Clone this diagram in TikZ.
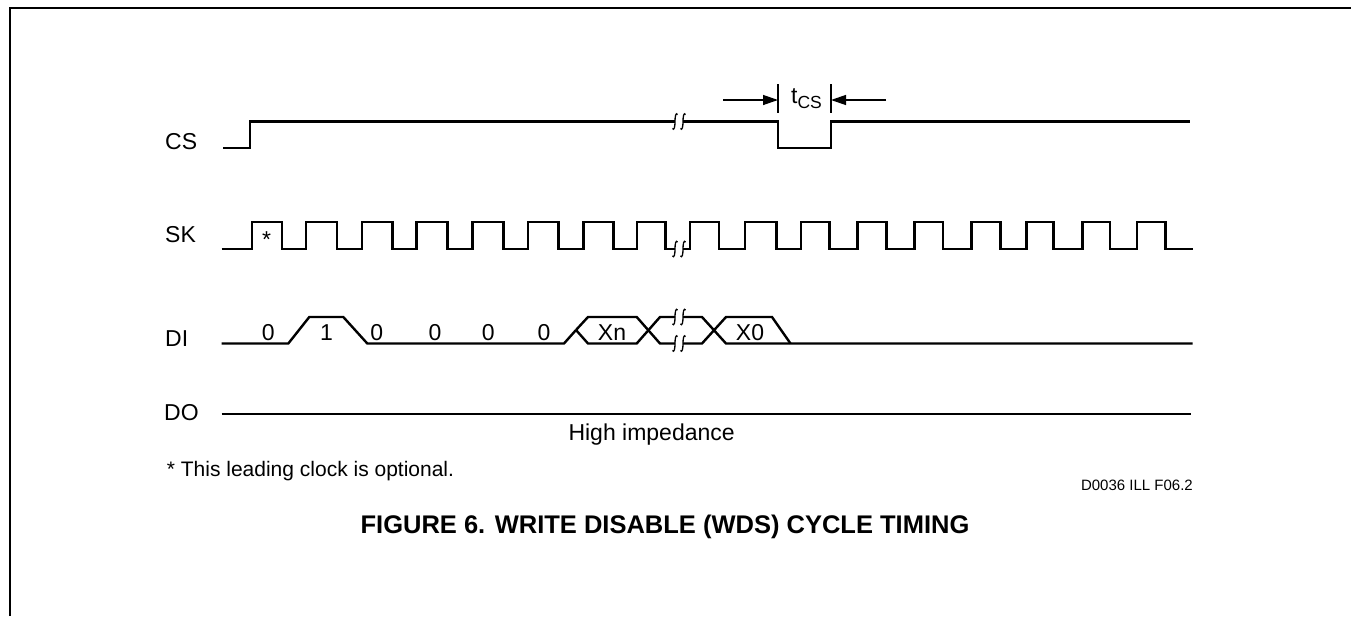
\documentclass[tikz,border=0pt]{standalone}
\usepackage{fontspec}
\setmainfont{Liberation Sans}
\usetikzlibrary{arrows.meta}
\newcommand\brkmark[2]{\draw[brk] ({#1+2.6},{#2-7}) .. controls ({#1+0.8},{#2-9.5}) and ({#1},{#2-5}) .. (#1,#2) .. controls ({#1},{#2+5}) and ({#1-0.8},{#2+9.5}) .. ({#1-2.6},{#2+7});}
\begin{document}
\begin{tikzpicture}[x=1pt,y=-1pt,
  sig/.style={line width=2.4pt,line join=miter},
  brk/.style={line width=1.3pt},
  frame/.style={line width=2pt},
  dim/.style={line width=1.3pt},
  lbl/.style={font=\fontsize{23}{23}\selectfont,inner sep=0pt},
  note/.style={font=\fontsize{21}{21}\selectfont,inner sep=0pt},
  sml/.style={font=\fontsize{15}{15}\selectfont,inner sep=0pt},
  ttl/.style={font=\fontsize{25.5}{25.5}\selectfont\bfseries,inner sep=0pt},
  arr/.style={dim,-{Triangle[length=15pt,width=10pt]}}]
\useasboundingbox (0,0) rectangle (1351,616);
% frame
\draw[frame] (10,616) -- (10,7.5) -- (1351,7.5);
% signal labels
\node[lbl,anchor=base west] (lcs) at (165,149) {CS};
\node[lbl,anchor=base west] (lsk) at (165,242) {SK};
\node[lbl,anchor=base west] (ldi) at (165,346.5) {DI};
\node[lbl,anchor=base west] (ldo) at (164,420.5) {DO};
% CS
\draw[sig] (223,148) -- (250,148) -- (250,121.5) -- (675,121.5);
\draw[sig] (683,121.5) -- (778,121.5) -- (778,148) -- (831,148) -- (831,121.5) -- (1190,121.5);
\brkmark{675}{121.5}\brkmark{683}{121.5}
% tCS
\coordinate (ta) at (778,84);
\coordinate (tb) at (778,113);
\coordinate (tc) at (831,84);
\coordinate (td) at (831,113);
\draw[dim] (ta) -- (tb);
\draw[dim] (tc) -- (td);
\coordinate (al) at (723,100);
\coordinate (ar) at (886,100);
\draw[arr] (al) -- (778,100);
\draw[arr] (ar) -- (831,100);
\node[lbl,anchor=base west] (tcs) at (791,103.3) {t\raisebox{-5pt}{\fontsize{17.5}{17.5}\selectfont CS}};
% SK
\draw[sig] (221.7,249)
  -- (251.7,249) -- (251.7,222) -- (281.7,222) -- (281.7,249)
  -- (306,249) -- (306,222) -- (336.7,222) -- (336.7,249)
  -- (361.7,249) -- (361.7,222) -- (392.5,222) -- (392.5,249)
  -- (416.5,249) -- (416.5,222) -- (447.5,222) -- (447.5,249)
  -- (472.5,249) -- (472.5,222) -- (503.5,222) -- (503.5,249)
  -- (528,249) -- (528,222) -- (558.5,222) -- (558.5,249)
  -- (583.5,249) -- (583.5,222) -- (613.5,222) -- (613.5,249)
  -- (637,249) -- (637,222) -- (665.5,222) -- (665.5,249)
  -- (675,249);
\draw[sig] (683,249) -- (690,249)
  -- (690,222) -- (718.8,222) -- (718.8,249)
  -- (745,249) -- (745,222) -- (776.5,222) -- (776.5,249)
  -- (801,249) -- (801,222) -- (829.5,222) -- (829.5,249)
  -- (857.5,249) -- (857.5,222) -- (886.4,222) -- (886.4,249)
  -- (914.6,249) -- (914.6,222) -- (942.7,222) -- (942.7,249)
  -- (971.6,249) -- (971.6,222) -- (1000.5,222) -- (1000.5,249)
  -- (1026.6,249) -- (1026.6,222) -- (1053.6,222) -- (1053.6,249)
  -- (1082.6,249) -- (1082.6,222) -- (1109.7,222) -- (1109.7,249)
  -- (1136.7,249) -- (1136.7,222) -- (1165.6,222) -- (1165.6,249)
  -- (1193,249);
\brkmark{675}{249}\brkmark{683}{249}
\node[lbl,anchor=base] (ast) at (266.7,247) {*};
% DI
\draw[sig] (221.7,343.5) -- (288.3,343.5) -- (309.3,317) -- (343.3,317) -- (367.3,343.5) -- (564,343.5) -- (576,330);
\draw[sig] (576,330) -- (588,317) -- (636.7,317) -- (660,343.5) -- (675,343.5);
\draw[sig] (576,330) -- (588,343.5) -- (636.7,343.5) -- (660,317) -- (675,317);
\draw[sig] (683,317) -- (702,317) -- (726,343.5) -- (1192.7,343.5);
\draw[sig] (683,343.5) -- (702,343.5) -- (726,317) -- (772,317) -- (790.5,343.5);
\brkmark{675}{317}\brkmark{683}{317}
\brkmark{675}{343.5}\brkmark{683}{343.5}
\node[lbl,anchor=base] (d0) at (268.3,340.7) {0};
\node[lbl,anchor=base] (d1) at (326.5,340.7) {1};
\node[lbl,anchor=base] (d2) at (376.7,340.7) {0};
\node[lbl,anchor=base] (d3) at (435,340.7) {0};
\node[lbl,anchor=base] (d4) at (488.3,340.7) {0};
\node[lbl,anchor=base] (d5) at (544,340.7) {0};
\node[lbl,anchor=base] (dxn) at (612,340.7) {Xn};
\node[lbl,anchor=base] (dx0) at (750,340.7) {X0};
% DO
\draw[sig] (221.7,414) -- (1190.7,414);
\node[lbl,anchor=base west] (hiz) at (568.3,440.5) {High impedance};
% notes
\node[note,anchor=base west] (fn) at (166.7,476) {* This leading clock is optional.};
\node[sml,anchor=base east] (ref) at (1193,490) {D0036 ILL F06.2};
\node[ttl,anchor=base] (title) at (665,533.3) {FIGURE 6. WRITE DISABLE (WDS) CYCLE TIMING};
\end{tikzpicture}
\end{document}
